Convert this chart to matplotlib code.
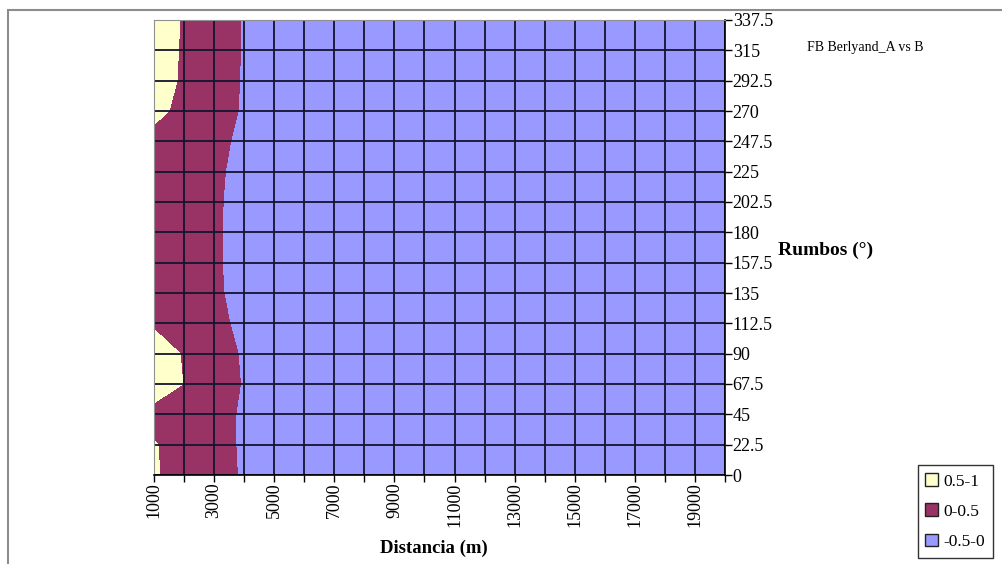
import numpy as np
import matplotlib.pyplot as plt
from matplotlib.patches import Rectangle, Patch

# Datos: distancia (m) y rumbo (grados)
distancias = [1000, 2000, 3000, 4000, 5000, 6000, 7000, 8000, 9000, 10000,
              11000, 12000, 13000, 14000, 15000, 16000, 17000, 18000, 19000, 20000]
rumbos = [0, 22.5, 45, 67.5, 90, 112.5, 135, 157.5, 180, 202.5,
          225, 247.5, 270, 292.5, 315, 337.5]

# Diferencia FB Berlyand A vs B (una fila por rumbo)
z_0     = [0.55, 0.30, 0.31, -0.09, -0.30, -0.33, -0.35, -0.36, -0.37, -0.38, -0.38, -0.39, -0.39, -0.40, -0.40, -0.41, -0.41, -0.41, -0.42, -0.42]
z_22_5  = [0.53, 0.30, 0.29, -0.11, -0.31, -0.33, -0.35, -0.36, -0.37, -0.38, -0.38, -0.39, -0.39, -0.40, -0.40, -0.41, -0.41, -0.41, -0.42, -0.42]
z_45    = [0.35, 0.33, 0.29, -0.11, -0.31, -0.34, -0.35, -0.36, -0.37, -0.38, -0.39, -0.39, -0.40, -0.40, -0.40, -0.41, -0.41, -0.42, -0.42, -0.42]
z_67_5  = [0.75, 0.49, 0.35, -0.05, -0.29, -0.33, -0.35, -0.36, -0.37, -0.38, -0.38, -0.39, -0.39, -0.40, -0.40, -0.41, -0.41, -0.41, -0.42, -0.42]
z_90    = [0.70, 0.47, 0.32, -0.08, -0.30, -0.33, -0.35, -0.36, -0.37, -0.38, -0.38, -0.39, -0.39, -0.40, -0.40, -0.41, -0.41, -0.41, -0.42, -0.42]
z_112_5 = [0.45, 0.38, 0.21, -0.19, -0.32, -0.34, -0.36, -0.37, -0.38, -0.38, -0.39, -0.39, -0.40, -0.40, -0.41, -0.41, -0.41, -0.42, -0.42, -0.42]
z_135   = [0.32, 0.28, 0.13, -0.27, -0.34, -0.35, -0.36, -0.37, -0.38, -0.39, -0.39, -0.40, -0.40, -0.40, -0.41, -0.41, -0.42, -0.42, -0.42, -0.43]
z_157_5 = [0.30, 0.26, 0.11, -0.29, -0.35, -0.36, -0.37, -0.38, -0.38, -0.39, -0.39, -0.40, -0.40, -0.41, -0.41, -0.41, -0.42, -0.42, -0.42, -0.43]
z_180   = [0.30, 0.26, 0.11, -0.29, -0.35, -0.36, -0.37, -0.38, -0.38, -0.39, -0.39, -0.40, -0.40, -0.41, -0.41, -0.41, -0.42, -0.42, -0.42, -0.43]
z_202_5 = [0.31, 0.27, 0.12, -0.28, -0.34, -0.36, -0.37, -0.38, -0.38, -0.39, -0.39, -0.40, -0.40, -0.41, -0.41, -0.41, -0.42, -0.42, -0.42, -0.43]
z_225   = [0.33, 0.29, 0.15, -0.25, -0.33, -0.35, -0.36, -0.37, -0.38, -0.39, -0.39, -0.40, -0.40, -0.40, -0.41, -0.41, -0.42, -0.42, -0.42, -0.43]
z_247_5 = [0.35, 0.33, 0.22, -0.18, -0.32, -0.34, -0.36, -0.37, -0.38, -0.38, -0.39, -0.39, -0.40, -0.40, -0.41, -0.41, -0.41, -0.42, -0.42, -0.42]
z_270   = [0.62, 0.38, 0.32, -0.08, -0.30, -0.33, -0.35, -0.36, -0.37, -0.38, -0.38, -0.39, -0.39, -0.40, -0.40, -0.41, -0.41, -0.41, -0.42, -0.42]
z_292_5 = [0.70, 0.44, 0.34, -0.06, -0.29, -0.33, -0.35, -0.36, -0.37, -0.38, -0.38, -0.39, -0.39, -0.40, -0.40, -0.41, -0.41, -0.41, -0.42, -0.42]
z_315   = [0.72, 0.45, 0.35, -0.05, -0.29, -0.33, -0.35, -0.36, -0.37, -0.38, -0.38, -0.39, -0.39, -0.40, -0.40, -0.41, -0.41, -0.41, -0.42, -0.42]
z_337_5 = [0.75, 0.46, 0.35, -0.05, -0.29, -0.33, -0.35, -0.36, -0.37, -0.38, -0.38, -0.39, -0.39, -0.40, -0.40, -0.41, -0.41, -0.41, -0.42, -0.42]

niveles = [-0.5, 0, 0.5, 1]
etiquetas_niveles = ['-0.5-0', '0-0.5', '0.5-1']
colores = ['#9999FF', '#993366', '#FFFFCC']

Z = np.array([z_0, z_22_5, z_45, z_67_5, z_90, z_112_5, z_135, z_157_5,
              z_180, z_202_5, z_225, z_247_5, z_270, z_292_5, z_315, z_337_5])

plt.rcParams['font.family'] = ['Liberation Serif', 'DejaVu Serif']

W, H = 1002, 564
fig = plt.figure(figsize=(W / 100, H / 100), dpi=100)

# marco exterior del grafico
fig.patches.append(Rectangle((8 / W, -0.05), 1.1, 1 - 10 / H + 0.05, transform=fig.transFigure,
                             fill=False, edgecolor='#8c8c8c', lw=1.5))

ax = fig.add_axes([154 / W, 1 - 475 / H, (725 - 154) / W, (475 - 20) / H])
ax.contourf(distancias, rumbos, Z, levels=niveles, colors=colores)

for d in distancias:
    ax.axvline(d, color='#14142e', lw=1.3)
for r in rumbos:
    ax.axhline(r, color='#14142e', lw=1.3)

ax.set_xlim(distancias[0], distancias[-1])
ax.set_ylim(rumbos[0], rumbos[-1])

ax.set_xticks(distancias)
ax.set_xticklabels([str(d) if (d // 1000) % 2 == 1 else '' for d in distancias],
                   rotation=90, fontsize=13)
ax.yaxis.tick_right()
ax.set_yticks(rumbos)
ax.set_yticklabels([f'{r:g}' for r in rumbos], fontsize=13)
ax.tick_params(axis='both', direction='out', length=5, width=1, pad=0.5)

for s in ['left', 'top']:
    ax.spines[s].set_color('#909090')
for s in ['bottom', 'right']:
    ax.spines[s].set_color('#000000')
    ax.spines[s].set_linewidth(1.2)

fig.text(434 / W, 1 - 548 / H, 'Distancia (m)', ha='center', va='center',
         fontsize=13.5, fontweight='bold')
fig.text(778 / W, 1 - 250 / H, 'Rumbos (°)', ha='left', va='center',
         fontsize=14, fontweight='bold')
fig.text(807 / W, 1 - 47 / H, 'FB Berlyand_A vs B', ha='left', va='center', fontsize=10)

handles = [Patch(facecolor=colores[i], edgecolor='#222222', label=etiquetas_niveles[i])
           for i in [2, 1, 0]]
leg = fig.legend(handles=handles, loc='lower right', bbox_to_anchor=(993 / W, 1 - 558 / H),
                 frameon=True, fancybox=False, edgecolor='#000000', fontsize=12.5,
                 handlelength=0.75, handleheight=0.75, handletextpad=0.3,
                 borderpad=0.45, labelspacing=0.8, borderaxespad=0)
leg.get_frame().set_linewidth(1)

fig.savefig('out.png', dpi=100)
